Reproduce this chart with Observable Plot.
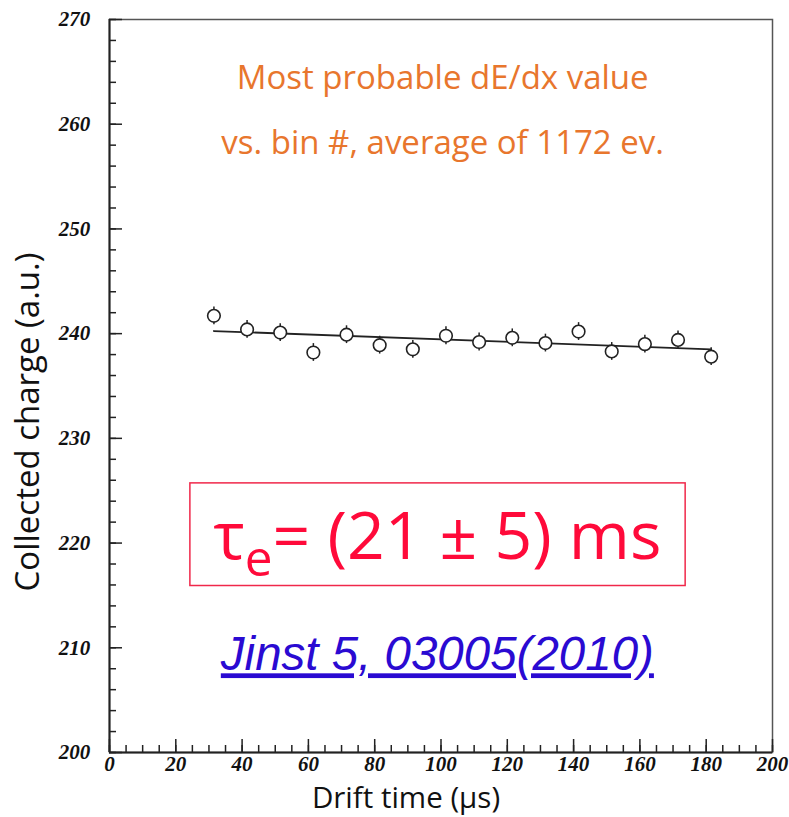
<!DOCTYPE html>
<html><head><meta charset="utf-8">
<script src="https://cdn.jsdelivr.net/npm/d3@7"></script>
<script src="https://cdn.jsdelivr.net/npm/@observablehq/plot@0.6"></script>
<style>body{margin:0;background:#fff}</style>
</head><body><div id="chart"></div>
<script>
// ---- data ----
const driftTime = [31.5, 41.5, 51.5, 61.5, 71.5, 81.5, 91.5, 101.5, 111.5, 121.5, 131.5, 141.5, 151.5, 161.5, 171.5, 181.5];
const charge    = [241.7, 240.4, 240.1, 238.2, 239.9, 238.9, 238.5, 239.8, 239.2, 239.6, 239.1, 240.2, 238.3, 239.0, 239.4, 237.8];
const chargeErr = [0.85, 0.85, 0.85, 0.85, 0.85, 0.85, 0.85, 0.85, 0.85, 0.85, 0.85, 0.85, 0.85, 0.85, 0.85, 0.85];
const fitTime   = [31.5, 181.5];
const fitCharge = [240.25, 238.5];
const xMajor = [0, 20, 40, 60, 80, 100, 120, 140, 160, 180, 200];
const yMajor = [200, 210, 220, 230, 240, 250, 260, 270];
const xMinor = d3.range(0, 201, 5);
const yMinor = d3.range(200, 271, 2);
const noteLines = ["Most probable dE/dx value", "vs. bin #, average of 1172 ev."];
const resultText = ["τe= (21 ± 5) ms"];
const refText = ["Jinst 5, 03005(2010)"];
const xLabel = ["Drift time (µs)"];
const yLabel = ["Collected charge (a.u.)"];

const points = driftTime.map((t, i) => ({t, q: charge[i], lo: charge[i] - chargeErr[i], hi: charge[i] + chargeErr[i]}));
const fit = fitTime.map((t, i) => ({t, q: fitCharge[i]}));

const sansFont = "Open Sans";
const tickStyle = {fontFamily: "Liberation Serif", fontWeight: "bold", fontStyle: "italic", fontSize: 21, fill: "#111", textAnchor: "middle"};

const chart = Plot.plot({
  width: 789, height: 817,
  marginLeft: 109, marginRight: 17, marginTop: 19, marginBottom: 65,
  style: {background: "#fff", overflow: "visible"},
  x: {domain: [0, 200], axis: null},
  y: {domain: [200, 270], axis: null},
  marks: [
    Plot.frame({stroke: "#555", strokeWidth: 1.5}),
    Plot.axisY(yMinor, {anchor: "left", tickSize: -7, tickFormat: () => "", stroke: "#222", strokeWidth: 1.5, label: null}),
    Plot.axisY(yMajor, {anchor: "left", tickSize: -13, tickFormat: () => "", stroke: "#222", strokeWidth: 1.5, label: null}),
    Plot.axisX(xMinor, {anchor: "bottom", tickSize: -7, tickFormat: () => "", stroke: "#222", strokeWidth: 1.5, label: null}),
    Plot.axisX(xMajor, {anchor: "bottom", tickSize: -13, tickFormat: () => "", stroke: "#222", strokeWidth: 1.5, label: null}),
    // tick labels as text marks driven by the tick arrays
    Plot.text(yMajor, {y: d => d, frameAnchor: "left", dx: -35, text: d => String(d), ...tickStyle}),
    Plot.text(xMajor, {x: d => d, frameAnchor: "bottom", dy: 18, text: d => String(d), ...tickStyle}),
    Plot.ruleX([0], {stroke: "#222", strokeWidth: 2}),
    Plot.ruleY([200], {stroke: "#222", strokeWidth: 2}),
    Plot.text(xLabel, {frameAnchor: "bottom", textAnchor: "middle", dx: -35, dy: 55, text: d => d, fontFamily: sansFont, fontSize: 29.5, fill: "#111"}),
    Plot.text(yLabel, {frameAnchor: "left", textAnchor: "middle", rotate: -90, dx: -81, dy: 36, text: d => d, fontFamily: sansFont, fontSize: 33, fill: "#111"}),
    Plot.text(noteLines, {x: 100.5, y: (d, i) => [264.4, 258.2][i], text: d => d, fontFamily: sansFont, fontSize: 33, fill: "#e8762d"}),
    Plot.rect([0], {x1: 24.4, x2: 173.8, y1: 215.9, y2: 225.7, fill: "none", stroke: "#f0284a", strokeWidth: 1.5}),
    Plot.text(resultText, {x: 31.4, y: 220.5, text: d => d, textAnchor: "start", fontFamily: sansFont, fontSize: 66, fill: "#ff0a3a", className: "result"}),
    Plot.text(refText, {x: 98.9, y: 209.3, text: d => d, fontFamily: "Liberation Sans", fontStyle: "italic", fontSize: 47.5, fill: "#2a0ad2", className: "ref"}),
    Plot.ruleX(points, {x: "t", y1: "lo", y2: "hi", stroke: "#222", strokeWidth: 1.5}),
    Plot.line(fit, {x: "t", y: "q", stroke: "#222", strokeWidth: 1.8}),
    Plot.dot(points, {x: "t", y: "q", r: 6.3, fill: "white", stroke: "#222", strokeWidth: 1.6})
  ]
});
document.getElementById("chart").appendChild(chart);

// subscript "e" in tau_e and underline of the reference
d3.select(chart).selectAll("g.result text").each(function() {
  const t = d3.select(this);
  const s = t.text();
  t.text(null);
  t.append("tspan").text(s.slice(0, 1));
  t.append("tspan").attr("font-size", "0.75em").attr("dy", "0.35em").text(s.slice(1, 2));
  t.append("tspan").attr("dy", "-0.26em").text(s.slice(2));
});
d3.select(chart).selectAll("g.ref text").style("text-decoration", "underline");
</script>
</body></html>
